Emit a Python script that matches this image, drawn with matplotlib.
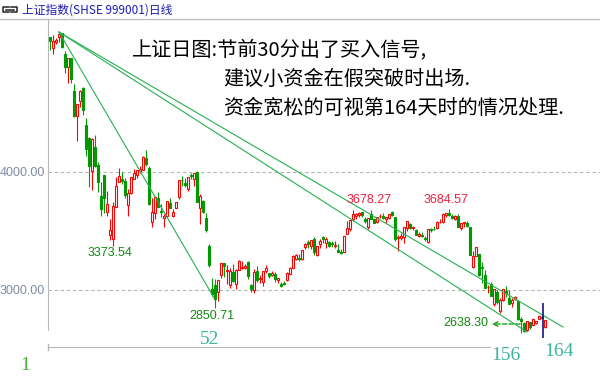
import numpy as np
import matplotlib.pyplot as plt
from matplotlib.lines import Line2D

# 上证指数 daily bars, 2015-06-09 .. 2016-02-15
opens = [5145, 5049, 5101, 5144, 5174, 5004, 4890, 4966, 4690, 4471,
         4604, 4711, 4400, 4289, 4006, 4214, 4059, 3793, 3975, 3663,
         3468, 3432, 3707, 3914, 3942, 3925, 3719, 3818, 3944, 3973,
         4011, 4017, 4115, 4033, 3573, 3654, 3778, 3668, 3614, 3625,
         3738, 3626, 3697, 3786, 3930, 3907, 3855, 3975, 3942, 3998,
         3695, 3755, 3609, 3373, 3005, 3044, 2979, 3125, 3232, 3157,
         3044, 3149, 3054, 3170, 3190, 3189, 3237, 3041, 2996, 3157,
         3094, 3071, 3160, 3140, 3124, 3135, 3086, 3053, 3058, 3085,
         3136, 3184, 3262, 3275, 3260, 3363, 3410, 3373, 3428, 3300,
         3388, 3446, 3401, 3408, 3400, 3371, 3337, 3326, 3326, 3475,
         3514, 3603, 3626, 3636, 3659, 3600, 3536, 3643, 3601, 3576,
         3624, 3631, 3602, 3614, 3659, 3616, 3437, 3442, 3450, 3525,
         3558, 3528, 3510, 3460, 3469, 3443, 3409, 3513, 3517, 3526,
         3575, 3578, 3637, 3649, 3623, 3605, 3631, 3528, 3566, 3571,
         3536, 3196, 3291, 3309, 3194, 3131, 3022, 3050, 2878, 2985,
         2818, 2918, 2990, 2934, 2893, 2921, 2911, 2757, 2720, 2665,
         2725, 2706, 2720, 2750, 2775, 2688]
highs = [5147, 5164, 5134, 5178, 5176, 5029, 4969, 4967, 4744, 4577,
         4691, 4720, 4456, 4297, 4287, 4317, 4081, 3913, 3975, 3836,
         3600, 3749, 3959, 4030, 3997, 3946, 3856, 3961, 4022, 4019,
         4047, 4133, 4184, 4050, 3778, 3790, 3827, 3730, 3645, 3757,
         3783, 3685, 3749, 3931, 3970, 3947, 3955, 3994, 3994, 4006,
         3812, 3762, 3652, 3389, 3103, 3092, 3084, 3233, 3233, 3214,
         3183, 3217, 3174, 3257, 3243, 3223, 3242, 3049, 3182, 3203,
         3123, 3157, 3212, 3148, 3164, 3149, 3104, 3067, 3073, 3151,
         3199, 3293, 3306, 3301, 3338, 3397, 3424, 3425, 3447, 3370,
         3431, 3457, 3449, 3415, 3418, 3415, 3391, 3345, 3460, 3585,
         3596, 3674, 3650, 3657, 3662, 3620, 3608, 3678, 3612, 3617,
         3640, 3654, 3618, 3648, 3668, 3621, 3470, 3483, 3538, 3585,
         3568, 3543, 3518, 3495, 3492, 3456, 3521, 3524, 3540, 3585,
         3600, 3651, 3654, 3685, 3641, 3635, 3641, 3565, 3574, 3581,
         3538, 3328, 3362, 3309, 3236, 3166, 3045, 3068, 3011, 3003,
         2935, 3008, 3037, 2997, 2928, 2952, 2916, 2769, 2727, 2740,
         2733, 2750, 2740, 2790, 2787, 2749]
lows = [5035, 5002, 5083, 5099, 5048, 4842, 4752, 4757, 4467, 4264,
        4552, 4483, 4139, 3875, 3848, 4043, 3828, 3630, 3653, 3629,
        3421, 3374, 3707, 3914, 3902, 3777, 3628, 3810, 3944, 3946,
        3995, 4017, 4055, 3718, 3537, 3600, 3704, 3622, 3537, 3618,
        3694, 3615, 3697, 3773, 3878, 3871, 3837, 3943, 3885, 3743,
        3558, 3656, 3491, 3191, 2953, 2851, 2906, 3103, 3109, 3054,
        3020, 3066, 3012, 3170, 3178, 3174, 3093, 2983, 2973, 3065,
        3063, 3033, 3141, 3099, 3118, 3069, 3063, 3027, 3039, 3076,
        3133, 3184, 3258, 3243, 3256, 3351, 3359, 3350, 3298, 3291,
        3360, 3401, 3355, 3368, 3367, 3353, 3323, 3305, 3323, 3473,
        3500, 3583, 3600, 3617, 3616, 3570, 3520, 3600, 3565, 3569,
        3607, 3601, 3569, 3599, 3629, 3412, 3327, 3426, 3395, 3502,
        3514, 3505, 3467, 3450, 3450, 3418, 3400, 3495, 3505, 3520,
        3565, 3572, 3619, 3624, 3598, 3597, 3530, 3511, 3538, 3538,
        3295, 3190, 3288, 3115, 3057, 3016, 2978, 2948, 2868, 2882,
        2806, 2908, 2944, 2880, 2852, 2917, 2748, 2638, 2647, 2652,
        2672, 2700, 2711, 2750, 2760, 2682]
closes = [5113, 5106, 5122, 5166, 5063, 4887, 4968, 4785, 4478, 4576,
          4690, 4528, 4193, 4053, 4277, 4054, 3913, 3687, 3776, 3727,
          3507, 3709, 3878, 3970, 3924, 3806, 3823, 3957, 3992, 4018,
          4026, 4124, 4071, 3726, 3663, 3789, 3706, 3664, 3623, 3757,
          3695, 3662, 3744, 3928, 3928, 3886, 3955, 3965, 3994, 3748,
          3794, 3664, 3508, 3210, 2965, 2927, 3084, 3232, 3206, 3167,
          3160, 3080, 3170, 3243, 3198, 3200, 3115, 3005, 3152, 3086,
          3098, 3157, 3186, 3116, 3143, 3092, 3101, 3038, 3053, 3143,
          3183, 3288, 3293, 3262, 3338, 3391, 3387, 3425, 3321, 3369,
          3412, 3430, 3434, 3375, 3387, 3383, 3325, 3317, 3460, 3523,
          3590, 3647, 3640, 3650, 3633, 3581, 3607, 3605, 3568, 3617,
          3630, 3610, 3616, 3648, 3636, 3436, 3445, 3456, 3537, 3585,
          3525, 3537, 3470, 3472, 3456, 3435, 3521, 3510, 3516, 3580,
          3579, 3642, 3652, 3636, 3612, 3628, 3534, 3564, 3573, 3539,
          3296, 3288, 3362, 3125, 3186, 3017, 3023, 2950, 3008, 2901,
          2914, 3008, 2977, 2880, 2917, 2939, 2750, 2736, 2656, 2738,
          2689, 2750, 2739, 2781, 2763, 2746]

grid_levels = [3000, 4000]
grid_labels = ['3000.00', '4000.00']

# trend lines from the 5178 top
trend_x = [[3.0, 171.0], [3.0, 159.0], [3.0, 54.7]]
trend_y = [[5186, 2686], [5186, 2644], [5186, 2932]]

red = '#ff0000'
green = '#009a00'
lgreen = '#25b050'

W, H = 600, 389
fig = plt.figure(figsize=(6, 3.89), dpi=100)


def fx(x):
    return x / W


def fy(y):
    return 1 - y / H


def price(y):
    return 4000 - (y - 172) / 0.118


ax = fig.add_axes([fx(48), fy(347), fx(600) - fx(48), fy(19) - fy(347)])
ax.set_xlim(-0.67, 183.3)
ax.set_ylim(price(347), price(19))

o = np.array(opens, float)
h = np.array(highs, float)
l = np.array(lows, float)
c = np.array(closes, float)
idx = np.arange(len(c))
up = c > o
dn = ~up

ax.vlines(idx[up], l[up], h[up], color=red, lw=0.8, zorder=2)
ax.vlines(idx[dn], l[dn], h[dn], color=green, lw=0.8, zorder=2)
ax.bar(idx[up], (c - o)[up], bottom=o[up], width=0.66, facecolor='white',
       edgecolor=red, lw=0.8, zorder=3)
ax.bar(idx[dn], (o - c)[dn], bottom=c[dn], width=0.66, facecolor=green,
       edgecolor=green, lw=0.8, zorder=3)

for lv in grid_levels:
    ax.axhline(lv, color='#b4b4b4', lw=0.8, ls=(0, (3, 2.5)), zorder=1)

for tx, ty in zip(trend_x, trend_y):
    ax.plot(tx, ty, color=lgreen, lw=0.8, zorder=4)

ax.set_yticks(grid_levels)
ax.set_yticklabels(grid_labels, fontfamily='Liberation Sans')
ax.tick_params(axis='y', length=0, pad=2, labelsize=9, labelcolor='#7f8ca0')
ax.set_xticks([])

for s in ['top', 'right']:
    ax.spines[s].set_visible(False)
ax.spines['left'].set_color('#b8b8b8')
ax.spines['left'].set_bounds(price(330), price(19))
ax.spines['bottom'].set_color('#b8b8b8')
ax.spines['bottom'].set_bounds(-0.67, 146.7)
ax.plot([-0.67, -0.67], [price(344), price(350)], color='#b8b8b8', lw=1,
        clip_on=False)

# cursor line and arrow to the low
ax.vlines(164.4, price(338), price(303), color='#000080', lw=1.1, zorder=5)
ax.annotate('', xy=(147.3, 2712), xytext=(156.7, 2712),
            arrowprops=dict(arrowstyle='->', color=green, lw=0.9,
                            linestyle='--', shrinkA=0, shrinkB=0,
                            mutation_scale=8))

# header
fig.add_artist(Line2D([0, 1], [fy(18.5), fy(18.5)], color='#c0c0c0', lw=1))
for xs, ys in [([9, 3, 3, 9], [7, 7, 12, 12]),
               ([11, 17, 17, 11], [7, 7, 12, 12]),
               ([6, 14], [9.5, 9.5])]:
    fig.add_artist(Line2D([fx(v) for v in xs], [fy(v) for v in ys],
                          color='#202020', lw=1.1))
cjk = ['Noto Sans CJK SC', 'DejaVu Sans']
fig.text(fx(22), fy(10), '上证指数(SHSE 999001)日线', color='#1c1cb4',
         fontsize=8.5, va='center', family=cjk)

fig.text(fx(132), fy(50), '上证日图:节前30分出了买入信号,', fontsize=14.5,
         va='center', family=cjk)
fig.text(fx(223), fy(79), '建议小资金在假突破时出场.', fontsize=14.5,
         va='center', family=cjk)
fig.text(fx(223), fy(108), '资金宽松的可视第164天时的情况处理.', fontsize=14.5,
         va='center', family=cjk)

for txt, x, y, col in [('3373.54', 110, 253, '#108a10'),
                       ('2850.71', 212, 316, '#108a10'),
                       ('3678.27', 369, 200, '#f0203c'),
                       ('3684.57', 446, 200, '#f0203c'),
                       ('2638.30', 466, 323, '#108a10')]:
    fig.text(fx(x), fy(y), txt, color=col, fontsize=9, ha='center',
             va='center', family='Liberation Sans')

for txt, x, y, col in [('1', 25, 365, '#4aae3a'),
                       ('52', 210, 339, '#39b5a0'),
                       ('156', 506, 355, '#39b5a0'),
                       ('164', 559, 352, '#39b5a0')]:
    fig.text(fx(x), fy(y), txt, color=col, fontsize=14, ha='center',
             va='center', family='Liberation Serif')

fig.savefig('out.png', dpi=100)
